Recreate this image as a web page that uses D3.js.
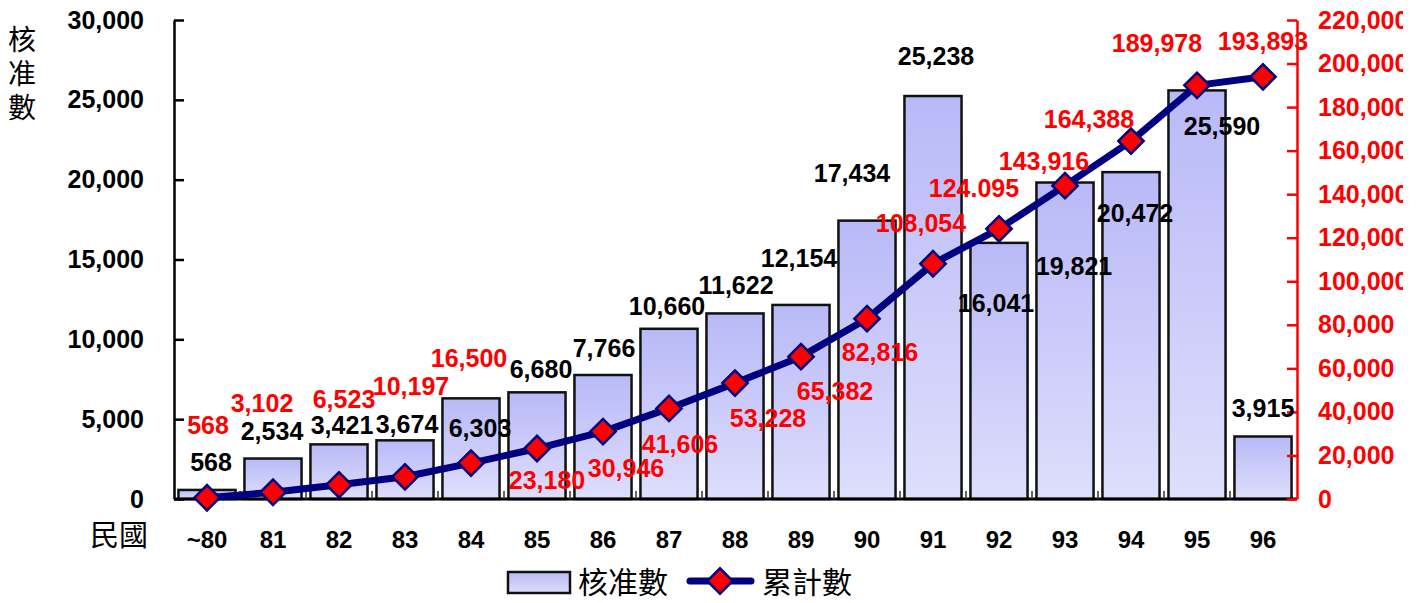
<!DOCTYPE html>
<html>
<head>
<meta charset="utf-8">
<script src="https://cdn.jsdelivr.net/npm/d3@7"></script>
<style>
  html, body { margin: 0; padding: 0; background: #fff; }
  svg { display: block; overflow: hidden; }
</style>
</head>
<body>
<script>
// ---- data ----
const categories = ["~80","81","82","83","84","85","86","87","88","89","90","91","92","93","94","95","96"];
const approvals = [568, 2534, 3421, 3674, 6303, 6680, 7766, 10660, 11622, 12154, 17434, 25238, 16041, 19821, 20472, 25590, 3915];
const cumulative = [568, 3102, 6523, 10197, 16500, 23180, 30946, 41606, 53228, 65382, 82816, 108054, 124095, 143916, 164388, 189978, 193893];
const cumulativeText = ["568","3,102","6,523","10,197","16,500","23,180","30,946","41,606","53,228","65,382","82,816","108,054","124.095","143,916","164,388","189,978","193,893"];
const leftTicks = [0, 5000, 10000, 15000, 20000, 25000, 30000];
const rightTicks = [0, 20000, 40000, 60000, 80000, 100000, 120000, 140000, 160000, 180000, 200000, 220000];
const seriesNames = ["核准數", "累計數"];
const xAxisTitle = "民國";
const yAxisTitle = "核准數";

// ---- label placement offsets (pixels) ----
const barLabelOffsets = [[4,-19],[-1,-19],[3,-10],[2,-7],[9,39],[4,-14],[1,-18],[-2,-14],[1,-19],[-2,-38],[-15,-39],[3,-31],[-3,69],[9,92],[4,50],[25,45],[0,-19]];
const cumLabelOffsets = [[1,-64],[-11,-80],[5,-77],[6,-82],[-2,-96],[10,40],[23,45],[11,45],[33,44],[34,43],[13,42],[-12,-32],[-25,-32],[-21,-16],[-42,-13],[-40,-33],[0,-27]];

(function () {
const W = 1403, H = 603;
const pLeft = 174, pRight = 1297, pTop = 20, pBottom = 499;
const FONT = "'Liberation Sans', Arial, sans-serif";
const CJK = "'Noto Sans CJK TC', 'Noto Sans CJK SC', sans-serif";
const NAVY = "#000080";

const svg = d3.select("body").append("svg").attr("width", W).attr("height", H);

const defs = svg.append("defs");
const grad = defs.append("linearGradient").attr("id", "barGrad")
  .attr("x1", 0).attr("y1", 0).attr("x2", 0).attr("y2", 1);
grad.append("stop").attr("offset", "0%").attr("stop-color", "#b9b9f8");
grad.append("stop").attr("offset", "100%").attr("stop-color", "#dedefc");

const x = d3.scaleBand().domain(categories).range([pLeft, pRight - 1]).paddingInner(0.135).paddingOuter(0.0675);
const yL = d3.scaleLinear().domain([0, 30000]).range([pBottom, pTop]);
const yR = d3.scaleLinear().domain([0, 220000]).range([pBottom, pTop]);
const cx = c => x(c) + x.bandwidth() / 2;

// bars
svg.append("g").selectAll("rect").data(approvals).join("rect")
  .attr("x", (d, i) => x(categories[i]))
  .attr("y", d => yL(d))
  .attr("width", x.bandwidth())
  .attr("height", d => pBottom - yL(d))
  .attr("fill", "url(#barGrad)")
  .attr("stroke", "#111")
  .attr("stroke-width", 2.5);

// left axis
const gL = svg.append("g").attr("transform", `translate(${pLeft},0)`)
  .call(d3.axisLeft(yL).tickValues(leftTicks).tickFormat(d3.format(",")).tickSize(-10).tickSizeOuter(0).tickPadding(30));
gL.select(".domain").attr("stroke", "#000").attr("stroke-width", 2.5);
gL.selectAll(".tick line").attr("stroke", "#000").attr("stroke-width", 2.5);
gL.selectAll(".tick text").attr("font-family", FONT).attr("font-weight", "bold").attr("font-size", 25).attr("fill", "#000");

// bottom baseline & category boundary ticks
svg.append("line").attr("x1", pLeft).attr("x2", pRight).attr("y1", pBottom).attr("y2", pBottom)
  .attr("stroke", "#000").attr("stroke-width", 3);
svg.append("g").selectAll("line").data(categories.slice(1)).join("line")
  .attr("x1", (d) => x(d) - x.step() * x.paddingInner() / 2)
  .attr("x2", (d) => x(d) - x.step() * x.paddingInner() / 2)
  .attr("y1", pBottom).attr("y2", pBottom - 8)
  .attr("stroke", "#333").attr("stroke-width", 1.5);

const gB = svg.append("g").attr("transform", `translate(0,${pBottom})`)
  .call(d3.axisBottom(x).tickSize(0).tickPadding(32));
gB.select(".domain").remove();
gB.selectAll(".tick text").attr("font-family", FONT).attr("font-weight", "bold").attr("font-size", 24).attr("fill", "#000");

// right axis
const gR = svg.append("g").attr("transform", `translate(${pRight},0)`)
  .call(d3.axisRight(yR).tickValues(rightTicks).tickFormat(d3.format(",")).tickSize(-10).tickSizeOuter(0).tickPadding(21));
gR.select(".domain").attr("stroke", "#ff0000").attr("stroke-width", 2.5);
gR.selectAll(".tick line").attr("stroke", "#ff0000").attr("stroke-width", 2.5);
gR.selectAll(".tick text").attr("font-family", FONT).attr("font-weight", "bold").attr("font-size", 25).attr("fill", "#ff0000");

// cumulative line
const line = d3.line().x((d, i) => cx(categories[i])).y(d => yR(d));
svg.append("path").datum(cumulative).attr("d", line)
  .attr("fill", "none").attr("stroke", NAVY).attr("stroke-width", 7).attr("stroke-linejoin", "round");

const diamond = d3.symbol().type(d3.symbolSquare).size(320);
svg.append("g").selectAll("path").data(cumulative).join("path")
  .attr("d", diamond)
  .attr("transform", (d, i) => `translate(${cx(categories[i])},${yR(d)}) rotate(45)`)
  .attr("fill", "#ff0000").attr("stroke", NAVY).attr("stroke-width", 2.5);

// bar labels
svg.append("g").selectAll("text").data(approvals).join("text")
  .attr("x", (d, i) => cx(categories[i]) + barLabelOffsets[i][0])
  .attr("y", (d, i) => yL(d) + barLabelOffsets[i][1])
  .attr("text-anchor", "middle")
  .attr("font-family", FONT).attr("font-weight", "bold").attr("font-size", 25).attr("fill", "#000")
  .text(d => d3.format(",")(d));

// cumulative labels
svg.append("g").selectAll("text").data(cumulative).join("text")
  .attr("x", (d, i) => cx(categories[i]) + cumLabelOffsets[i][0])
  .attr("y", (d, i) => yR(d) + cumLabelOffsets[i][1])
  .attr("text-anchor", "middle")
  .attr("font-family", FONT).attr("font-weight", "bold").attr("font-size", 25).attr("fill", "#ff0000")
  .text((d, i) => cumulativeText[i]);

// axis titles
svg.append("text")
  .attr("x", 22).attr("y", 25)
  .style("writing-mode", "vertical-rl")
  .attr("letter-spacing", 6)
  .attr("font-family", CJK).attr("font-size", 28).attr("fill", "#000")
  .text(yAxisTitle);
svg.append("text").attr("x", 90).attr("y", 546)
  .attr("font-family", CJK).attr("font-size", 29).attr("fill", "#000")
  .text(xAxisTitle);

// legend
const lg = svg.append("g");
lg.append("rect").attr("x", 508).attr("y", 572).attr("width", 62).attr("height", 21)
  .attr("fill", "url(#barGrad)").attr("stroke", "#111").attr("stroke-width", 2.5);
lg.append("text").attr("x", 578).attr("y", 593)
  .attr("font-family", CJK).attr("font-size", 30).attr("fill", "#000").text(seriesNames[0]);
lg.append("line").attr("x1", 690).attr("x2", 751).attr("y1", 581).attr("y2", 581)
  .attr("stroke", NAVY).attr("stroke-width", 7).attr("stroke-linecap", "round");
lg.append("path").attr("d", diamond).attr("transform", "translate(720,581) rotate(45)")
  .attr("fill", "#ff0000").attr("stroke", NAVY).attr("stroke-width", 2.5);
lg.append("text").attr("x", 762).attr("y", 593)
  .attr("font-family", CJK).attr("font-size", 30).attr("fill", "#000").text(seriesNames[1]);
})();
</script>
</body>
</html>
